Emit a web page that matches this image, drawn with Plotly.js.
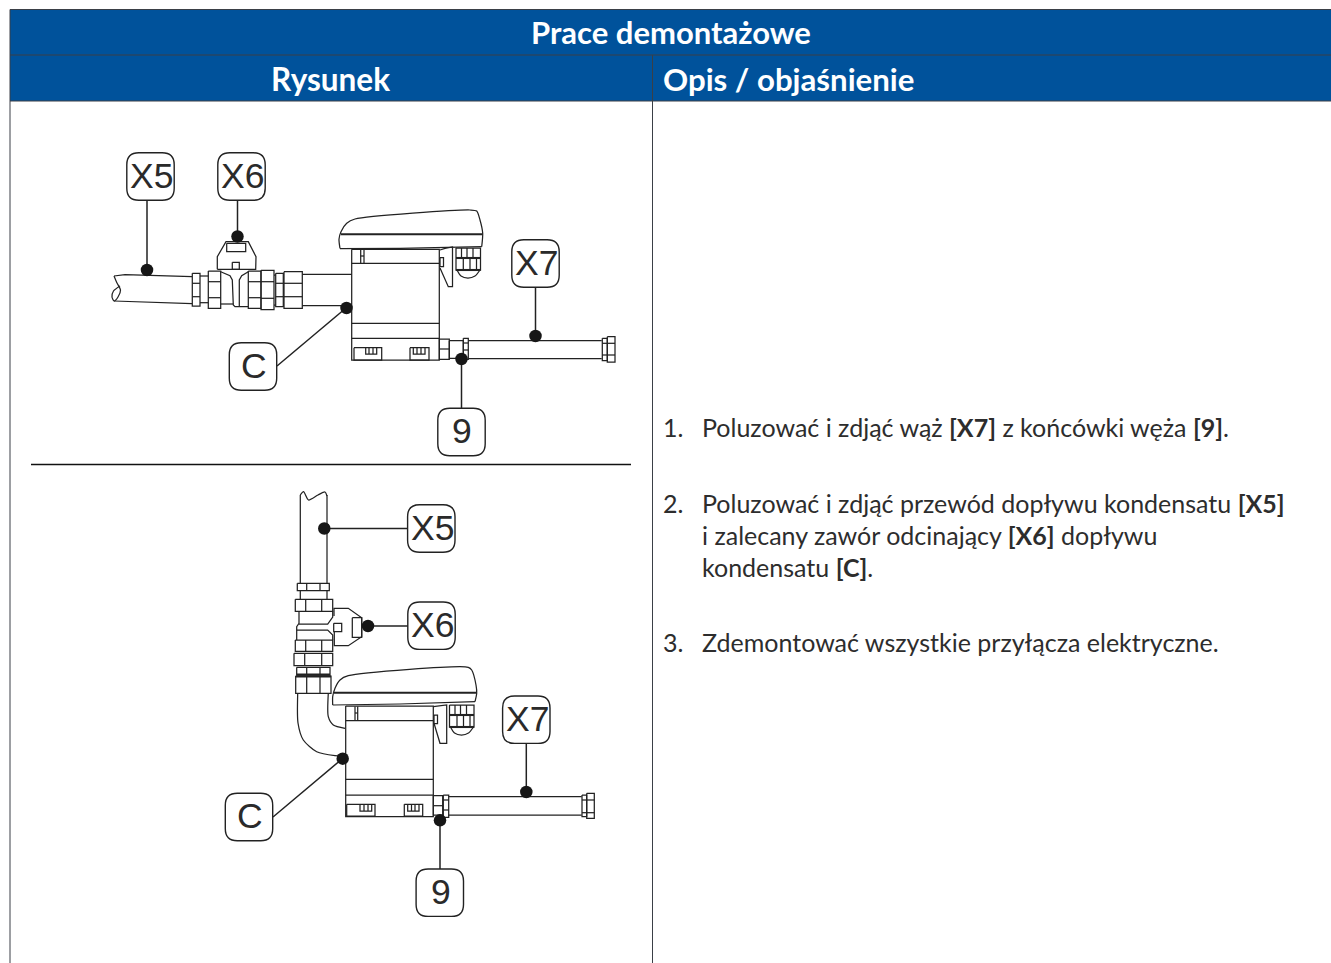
<!DOCTYPE html>
<html><head><meta charset="utf-8">
<script src="https://cdn.plot.ly/plotly-3.0.1.min.js"></script>
<style>html,body{margin:0;padding:0;background:#fff}#c{width:1331px;height:963px}</style></head>
<body><div id="c"></div>
<script>
// ---- table text ----
const titleText = "Prace demontażowe";
const colLeftText = "Rysunek";
const colRightText = "Opis / objaśnienie";
const stepNumbers = [["1.",427],["2.",503],["3.",642]];
const stepLines = [
 ["Poluzować i zdjąć wąż <b>[X7]</b> z końcówki węża <b>[9]</b>.",427],
 ["Poluzować i zdjąć przewód dopływu kondensatu <b>[X5]</b>",503],
 ["i zalecany zawór odcinający <b>[X6]</b> dopływu",535],
 ["kondensatu <b>[C]</b>.",567],
 ["Zdemontować wszystkie przyłącza elektryczne.",642]
];
// ---- callouts: label, box centre x, y ----
const callouts = [
 ["X5",150.5,176.5],["X6",241.5,176.5],["C",253,366.5],["X7",535.5,263.5],["9",461.5,432],
 ["X5",431.3,528.5],["X6",431.5,625.7],["C",249,817],["X7",526.3,719.7],["9",439.8,892.7]
];
const dotsX = [147,237.5,346.5,535.5,461.5,324.3,368,342.7,526.3,440];
const dotsY = [270,236.5,308,336,359,528.5,626,758.7,792,820.3];
const leaders = [
 [[147,200],[147,270]],[[237.5,200],[237.5,236]],[[277,366],[346,308]],[[535.5,287],[535.5,336]],[[461.5,359],[461.5,408]],
 [[324,528.5],[408,528.5]],[[368,626],[408,626]],[[273,817],[342,759]],[[526.3,743],[526.3,792]],[[440,820],[440,869]]
];
// ---- rectangles: x0,y0,x1,y1 ----
const rects = [
 // upper drawing, fittings
 [192.3,273.3,200,306],[208.3,271,220.7,308.3],[248.3,271,261,308.3],[261,270.3,274,309.7],[275.7,273.3,283.3,306.7],[284,271.7,302.3,308.3],
 [226.7,243.3,245.7,251.7],[232.3,262.3,239.3,269.3],
 [351.7,249.3,439.3,360],[354,347.7,381.7,360],[410,347.7,429,360],
 [439.3,339,449.3,359.3],[449.3,340.7,463.3,358.3],[463.3,338.3,468.3,359.3],[602.3,338.3,607.3,360.7],[607.3,336.7,615,362],
 [456,248,480.5,270],[440,257.7,443.5,266.7],
 // lower drawing, fittings
 [297.3,583.3,329.3,590.7],[295.3,599.3,332.7,611.3],[295.3,640,332.7,651.3],[294,653.3,332.7,665.7],[296.7,667.3,330,675],[295.7,676,331,693.3],
 [352.3,617.7,361.7,637.3],[333.7,623.3,341.7,631.7],
 [345.7,706,433.3,816.7],[346.7,804.3,375,816],[404.3,804.3,422.7,816],
 [433.3,795.7,442.7,815],[443.3,795,448.7,817.3],[582,795,586.7,816.7],[586.7,793.3,594.3,818.3],
 [449.5,705,474,727],[434,715,437.5,723.5]
];
// ---- open polylines ----
const polylines = [
 // upper pipe and valve
 [[114,276],[125,274.7],[192,276.7]],[[114,301],[192,303.7]],
 [[200,276],[208.3,276]],[[200,302.7],[208.3,302.7]],
 [[192.3,283.3],[200,283.3]],[[192.3,296.7],[200,296.7]],
 [[208.3,281.7],[220.7,281.7]],[[208.3,297.7],[220.7,297.7]],
 [[248.3,281.7],[261,281.7]],[[248.3,297.7],[261,297.7]],
 [[261,281.7],[274,281.7]],[[261,298.3],[274,298.3]],
 [[275.7,283.3],[283.3,283.3]],[[275.7,296.7],[283.3,296.7]],
 [[284,283.3],[302.3,283.3]],[[284,296.7],[302.3,296.7]],
 [[274,275],[275.7,275]],[[274,305],[275.7,305]],
 [[220.7,271.7],[230,275.7],[232.3,280],[233.3,305],[235,306.7],[248.3,306.7]],
 [[220.7,304],[233.3,304]],
 [[248.3,271.7],[241.7,275.7],[239.3,280],[239.3,306.7]],
 [[217.3,269.3],[217.3,256.7],[226,241.7],[248.3,241.7],[256,256.7],[255.7,269.3],[217.3,269.3]],
 [[302.3,274.3],[351.7,274.3]],[[302.3,305.7],[351.7,305.7]],
 // upper pump
 [[351.7,263.3],[439.3,263.3]],[[351.7,323.3],[439.3,323.3]],[[351.7,338.3],[439.3,338.3]],
 [[360.7,250],[360.7,263.3]],[[364,250],[364,263.3]],[[360.7,256],[364,256]],
 [[365.7,347.7],[365.7,354],[376.7,354],[376.7,347.7]],[[369,348],[369,354]],[[373,348],[373,354]],
 [[413.3,347.7],[413.3,354],[425,354],[425,347.7]],[[417,348],[417,354]],[[421,348],[421,354]],
 [[440,268],[448.3,286.7],[452.5,286.7],[452.5,247],[445,248.3],[440,250]],
 [[461.5,248],[461.5,258]],[[467,248],[467,258]],[[473,248],[473,258]],
 [[463.3,259],[463.3,270]],[[470,259],[470,270]],[[476.5,259],[476.5,270]],
 [[439.3,349],[449.3,349]],[[463.3,343],[468.3,343]],[[463.3,350],[468.3,350]],
 [[468.3,340.7],[601.7,340.7]],[[468.3,358.7],[601.7,358.7]],
 [[602.3,343.3],[615,343.3]],[[602.3,355],[615,355]],
 // lower pipe and valve
 [[300.3,495],[300.3,583.3]],[[327,495],[327,583.3]],
 [[306.7,583.3],[306.7,590.7]],[[320,583.3],[320,590.7]],
 [[300.3,590.7],[300.3,599.3]],[[327,590.7],[327,599.3]],
 [[305.7,599.3],[305.7,611.3]],[[321.7,599.3],[321.7,611.3]],
 [[299,611.3],[299,623.3],[296.7,626.7],[296.7,640]],
 [[332.7,611.3],[332.7,617],[327.7,624],[299,624]],
 [[296.7,630],[327.7,630],[332.7,635],[332.7,640]],
 [[305.7,640],[305.7,651.3]],[[321.7,640],[321.7,651.3]],
 [[304.7,653.3],[304.7,665.7]],[[321.7,653.3],[321.7,665.7]],
 [[306.7,667.3],[306.7,675]],[[320,667.3],[320,675]],
 [[306.7,676],[306.7,693.3]],[[320,676],[320,693.3]],
 [[334,616],[334,608.3],[348.3,608.3],[361.7,617.7],[361.7,636.7],[348.3,645.7],[334.3,645.7],[334.3,632]],
 // lower pump
 [[345.7,720.7],[433.3,720.7]],[[345.7,779.3],[433.3,779.3]],[[345.7,795],[433.3,795]],
 [[355,706.5],[355,720.7]],[[357.7,706.5],[357.7,720.7]],[[355,713],[357.7,713]],
 [[360,804.5],[360,811],[371.7,811],[371.7,804.5]],[[364,805],[364,811]],[[368,805],[368,811]],
 [[407.7,804.5],[407.7,811],[419,811],[419,804.5]],[[411.5,805],[411.5,811]],[[415,805],[415,811]],
 [[434,723.3],[440,743.3],[446.7,743.3],[446.7,705],[433.3,706.7]],
 [[455,705],[455,715]],[[460.5,705],[460.5,715]],[[466.5,705],[466.5,715]],
 [[457,716],[457,727]],[[463.5,716],[463.5,727]],[[470,716],[470,727]],
 [[433.3,805.7],[442.7,805.7]],[[443.3,800],[448.7,800]],[[443.3,810],[448.7,810]],
 [[448.7,796.7],[581.7,796.7]],[[448.7,815],[581.7,815]],
 [[582,800],[594.3,800]],[[582,812.7],[594.3,812.7]]
];
// ---- heavier strokes ----
const thickLines = [
 [[341,234.3],[482.5,234.3]],[[296.7,674.5],[330,674.5]],[[295.7,676.5],[331,676.5]],[[334,692.7],[476.5,692.7]],
 [[456,258],[480.5,258]],[[456,270],[480.5,270]],[[449.5,715],[474,715]],[[449.5,727],[474,727]]
];
// ---- smooth curves ----
const curves = [
 // pipe end, upper
 [[114,276],[117,283],[120.5,290],[118,297],[114,301],[112,297],[113.5,291],[120,286]],
 [[300.3,495],[303.5,491.7],[308.5,500],[318,495],[325,492],[327,496]],
 // pump covers
 [[340,248.5],[339,239.3],[341,231.7],[346.7,223.3],[355,219],[470,210],[476.7,211],[480,220],[482.7,233.3],[481.7,246.7]],
 [[340,248.5],[400,248.3],[481.7,246.7]],
 [[332.7,705],[332.7,696.7],[335,688.3],[340,680],[348.3,675.7],[468.3,667.3],[471.7,670],[476,685],[476.7,693.3],[475,701.7]],
 [[332.7,705],[400,704],[475,701.7]],
 // glands
 [[457,270],[461,276],[468,278],[475,276],[480,270]],
 [[450.5,727],[454.5,733],[461.5,735],[468.5,733],[473.5,727]],
 // elbow
 [[297.7,693.3],[298,723],[303.3,740],[316.7,751.7],[335,755.7],[342,756]],
 [[328.3,693.3],[328.3,716.7],[333.3,725],[345,728.3]]
];
// ---- frame ----
const headerBand = [10,9.5,1331,101];
const frameLines = [[[10,9.5],[1331,9.5]],[[10,55],[1331,55]],[[10,101],[1331,101]],[[10,9.5],[10,963]],[[652.5,55],[652.5,963]]];
const separator = [[31,464.5],[631,464.5]];

const BLUE="#00529b", INK="#222222", TXT="#2d2d2d", HEAD="Lato";

function flat(list){const x=[],y=[];list.forEach(l=>{l.forEach(p=>{x.push(p[0]);y.push(p[1]);});x.push(null);y.push(null);});return {x,y};}
const rectPolys = rects.map(r=>[[r[0],r[1]],[r[2],r[1]],[r[2],r[3]],[r[0],r[3]],[r[0],r[1]]]);
function tr(list,w,color,shape){const f=flat(list);return {type:"scatter",mode:"lines",x:f.x,y:f.y,hoverinfo:"skip",showlegend:false,line:{color:color||INK,width:w,shape:shape||"linear",smoothing:0.7},connectgaps:false};}

const traces=[
 tr(rectPolys,1.25),tr(polylines,1.25),tr(thickLines,2.1),
 ...curves.map(c=>tr([c],1.25,INK,"spline")),
 tr(leaders,1.5),tr([separator],1.5,"#111"),tr(frameLines,1,"#3a3f46"),
 {type:"scatter",mode:"markers",x:dotsX,y:dotsY,hoverinfo:"skip",showlegend:false,marker:{color:"#161616",size:12.5,line:{width:0}}}
];
function box(cx,cy){const h=23.7,r=12,a=cx-h,b=cx+h,c=cy-h,d=cy+h;
 return {type:"path",xref:"x",yref:"y",layer:"above",line:{color:INK,width:1.4},fillcolor:"#fff",
 path:`M${a+r},${c}L${b-r},${c}Q${b},${c} ${b},${c+r}L${b},${d-r}Q${b},${d} ${b-r},${d}L${a+r},${d}Q${a},${d} ${a},${d-r}L${a},${c+r}Q${a},${c} ${a+r},${c}Z`};}
const shapes=[
 {type:"rect",xref:"x",yref:"y",layer:"below",x0:headerBand[0],y0:headerBand[1],x1:headerBand[2],y1:headerBand[3],fillcolor:BLUE,line:{width:0}},
 ...callouts.map(c=>box(c[1],c[2]))
];
function note(text,x,y,size,color,anchor,family){return {xref:"x",yref:"y",x,y,text,showarrow:false,xanchor:anchor||"left",yanchor:"middle",font:{family:family||"Lato",size,color},borderpad:0};}
const annotations=[
 note("<b>"+titleText+"</b>",671,32,31,"#fff","center",HEAD),
 note("<b>"+colLeftText+"</b>",330.5,78.5,31.5,"#fff","center",HEAD),
 note("<b>"+colRightText+"</b>",662,78.5,31.2,"#fff","left",HEAD),
 ...stepNumbers.map(s=>note(s[0],662,s[1],25,TXT,"left","Lato")),
 ...stepLines.map(s=>note(s[0],700.5,s[1],25,TXT,"left","Lato")),
 ...callouts.map(c=>note(c[0],c[1]+0.7,c[2]-1,35.5,"#2a2a2a","center","'Liberation Sans'"))
];
Plotly.newPlot("c",traces,{
 width:1331,height:963,margin:{l:0,r:0,t:0,b:0},paper_bgcolor:"#fff",plot_bgcolor:"#fff",showlegend:false,
 xaxis:{range:[0,1331],visible:false,fixedrange:true},
 yaxis:{range:[963,0],visible:false,fixedrange:true},
 shapes,annotations
},{staticPlot:true,displayModeBar:false});
</script></body></html>
